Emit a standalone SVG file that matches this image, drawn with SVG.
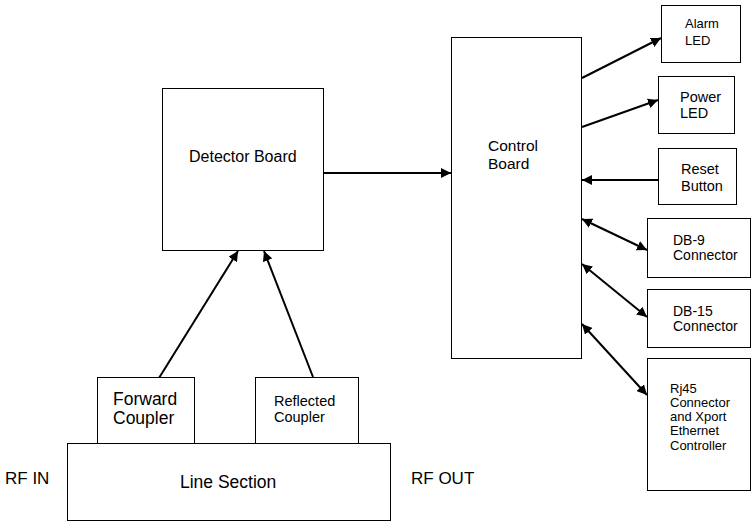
<svg xmlns="http://www.w3.org/2000/svg" width="752" height="522" viewBox="0 0 752 522">
<defs>
<marker id="ah" viewBox="0 0 10 10" refX="10" refY="5" markerWidth="5" markerHeight="5" orient="auto-start-reverse" markerUnits="strokeWidth">
<path d="M0,0 L10,5 L0,10 z" fill="#000"/>
</marker>
<style>
.box{fill:#fff;stroke:#000;stroke-width:1}
.t{font-family:"Liberation Sans",Arial,sans-serif;fill:#000}
.c{stroke:#000;stroke-width:2;fill:none}
</style>
</defs>
<rect width="752" height="522" fill="#fff"/>
<g id="connectors">
<line class="c" x1="323" y1="173" x2="451" y2="173" marker-end="url(#ah)"/>
<line class="c" x1="159" y1="378" x2="238" y2="251" marker-end="url(#ah)"/>
<line class="c" x1="313" y1="377" x2="264" y2="251" marker-end="url(#ah)"/>
<line class="c" x1="582" y1="78" x2="661" y2="38" marker-end="url(#ah)"/>
<line class="c" x1="582" y1="127" x2="658" y2="100" marker-end="url(#ah)"/>
<line class="c" x1="658" y1="180" x2="582" y2="180" marker-end="url(#ah)"/>
<line class="c" x1="582" y1="219" x2="647" y2="250" marker-start="url(#ah)" marker-end="url(#ah)"/>
<line class="c" x1="582" y1="264" x2="647" y2="317" marker-start="url(#ah)" marker-end="url(#ah)"/>
<line class="c" x1="582" y1="324" x2="647" y2="395" marker-start="url(#ah)" marker-end="url(#ah)"/>
</g>
<g id="detector">
<rect class="box" x="162.5" y="88.5" width="161" height="162"/>
<text class="t" x="189" y="162" font-size="16">Detector Board</text>
</g>
<g id="control">
<rect class="box" x="451.5" y="37.5" width="130" height="321"/>
<text class="t" x="488" y="151" font-size="15.5">Control</text>
<text class="t" x="488" y="169" font-size="15.5">Board</text>
</g>
<g id="alarm">
<rect class="box" x="661.5" y="5.5" width="79" height="57"/>
<text class="t" x="685" y="28" font-size="13">Alarm</text>
<text class="t" x="685" y="45" font-size="13">LED</text>
</g>
<g id="power">
<rect class="box" x="658.5" y="76.5" width="76" height="57"/>
<text class="t" x="680" y="102" font-size="14.5">Power</text>
<text class="t" x="680" y="118" font-size="14.5">LED</text>
</g>
<g id="reset">
<rect class="box" x="658.5" y="148.5" width="78" height="56"/>
<text class="t" x="681" y="174" font-size="14.5">Reset</text>
<text class="t" x="681" y="191" font-size="14.5">Button</text>
</g>
<g id="db9">
<rect class="box" x="647.5" y="218.5" width="103" height="59"/>
<text class="t" x="673" y="245" font-size="14">DB-9</text>
<text class="t" x="673" y="260" font-size="14">Connector</text>
</g>
<g id="db15">
<rect class="box" x="647.5" y="289.5" width="103" height="58"/>
<text class="t" x="673" y="316" font-size="14">DB-15</text>
<text class="t" x="673" y="331" font-size="14">Connector</text>
</g>
<g id="rj45">
<rect class="box" x="647.5" y="358.5" width="103" height="132"/>
<text class="t" x="670" y="393" font-size="13">Rj45</text>
<text class="t" x="670" y="407" font-size="13">Connector</text>
<text class="t" x="670" y="421" font-size="13">and Xport</text>
<text class="t" x="670" y="435" font-size="13">Ethernet</text>
<text class="t" x="670" y="450" font-size="13">Controller</text>
</g>
<g id="forward">
<rect class="box" x="97.5" y="377.5" width="97" height="66"/>
<text class="t" x="113" y="405" font-size="17.5">Forward</text>
<text class="t" x="113" y="424" font-size="17.5">Coupler</text>
</g>
<g id="reflected">
<rect class="box" x="255.5" y="377.5" width="103" height="66"/>
<text class="t" x="274" y="406" font-size="14.5">Reflected</text>
<text class="t" x="274" y="422" font-size="14.5">Coupler</text>
</g>
<g id="line">
<rect class="box" x="67.5" y="443.5" width="323" height="77"/>
<text class="t" x="180" y="488" font-size="17.5">Line Section</text>
</g>
<g id="labels">
<text class="t" x="5" y="484" font-size="17">RF IN</text>
<text class="t" x="411" y="484" font-size="17">RF OUT</text>
</g>
</svg>
